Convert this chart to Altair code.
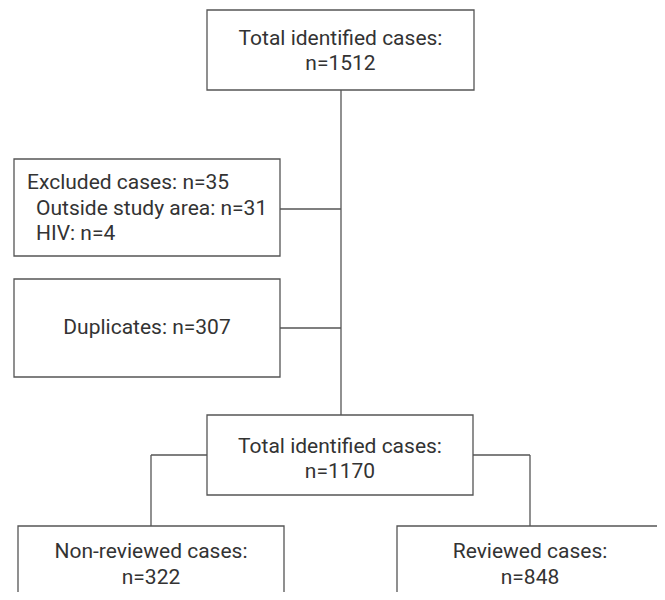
import altair as alt
import pandas as pd

# ---- content (texts and counts) ----
box_titles = ["Total identified cases:", "Excluded cases:", "Duplicates:",
              "Total identified cases:", "Non-reviewed cases:", "Reviewed cases:"]
box_counts = [1512, 35, 307, 1170, 322, 848]
sub_titles = ["Outside study area:", "HIV:"]
sub_counts = [31, 4]

# ---- layout (picture pixel coordinates) ----
box_x1 = [207, 14, 14, 207, 18, 397]
box_x2 = [474, 280, 280, 473, 284, 663]
box_y1 = [10, 159, 279, 415, 526, 526]
box_y2 = [90, 256, 377, 495, 640, 640]

rows = []
for i in range(6):
    rows.append(dict(x=box_x1[i], x2=box_x2[i], y=box_y1[i], y2=box_y2[i]))
boxes = pd.DataFrame(rows)

# connectors
conn = pd.DataFrame([
    dict(x=341, x2=341, y=90, y2=415),
    dict(x=280, x2=341, y=209, y2=209),
    dict(x=280, x2=341, y=328, y2=328),
    dict(x=151, x2=207, y=455, y2=455),
    dict(x=151, x2=151, y=455, y2=526),
    dict(x=473, x2=530, y=455, y2=455),
    dict(x=530, x2=530, y=455, y2=526),
])

# centered texts
centered = []
def two_lines(i, cx, y1, y2):
    centered.append(dict(x=cx, y=y1, t=box_titles[i]))
    centered.append(dict(x=cx, y=y2, t=f"n={box_counts[i]}"))

two_lines(0, 340.5, 39, 64)
centered.append(dict(x=147, y=328, t=f"{box_titles[2]} n={box_counts[2]}"))
two_lines(3, 340, 447, 472)
two_lines(4, 151, 552, 578)
two_lines(5, 530, 552, 578)
centered = pd.DataFrame(centered)

left = pd.DataFrame([
    dict(x=27, y=183, t=f"{box_titles[1]} n={box_counts[1]}"),
    dict(x=36, y=209, t=f"{sub_titles[0]} n={sub_counts[0]}"),
    dict(x=36, y=234, t=f"{sub_titles[1]} n={sub_counts[1]}"),
])

xs = alt.Scale(domain=[8, 657], nice=False, zero=False)
ys = alt.Scale(domain=[8, 592], nice=False, zero=False, reverse=True)
LINE = "#555555"
TXT = "#333333"
FONT = "Roboto"
FS = 21

rects = alt.Chart(boxes).mark_rect(fill="white", stroke=LINE, strokeWidth=1.3, clip=True).encode(
    x=alt.X("x:Q", scale=xs, axis=None), x2="x2:Q",
    y=alt.Y("y:Q", scale=ys, axis=None), y2="y2:Q")

rules = alt.Chart(conn).mark_rule(color=LINE, strokeWidth=1.3).encode(
    x=alt.X("x:Q", scale=xs, axis=None), x2="x2:Q",
    y=alt.Y("y:Q", scale=ys, axis=None), y2="y2:Q")

ctext = alt.Chart(centered).mark_text(font=FONT, fontSize=FS, color=TXT, align="center", baseline="middle").encode(
    x=alt.X("x:Q", scale=xs, axis=None), y=alt.Y("y:Q", scale=ys, axis=None), text="t:N")

ltext = alt.Chart(left).mark_text(font=FONT, fontSize=FS, color=TXT, align="left", baseline="middle").encode(
    x=alt.X("x:Q", scale=xs, axis=None), y=alt.Y("y:Q", scale=ys, axis=None), text="t:N")

chart = alt.layer(rules, rects, ctext, ltext).properties(
    width=649, height=584, padding=0,
    autosize=alt.AutoSizeParams(type="none")
).configure_view(stroke=None)

chart.save("out.html", embed_options={"renderer": "svg", "actions": False})
